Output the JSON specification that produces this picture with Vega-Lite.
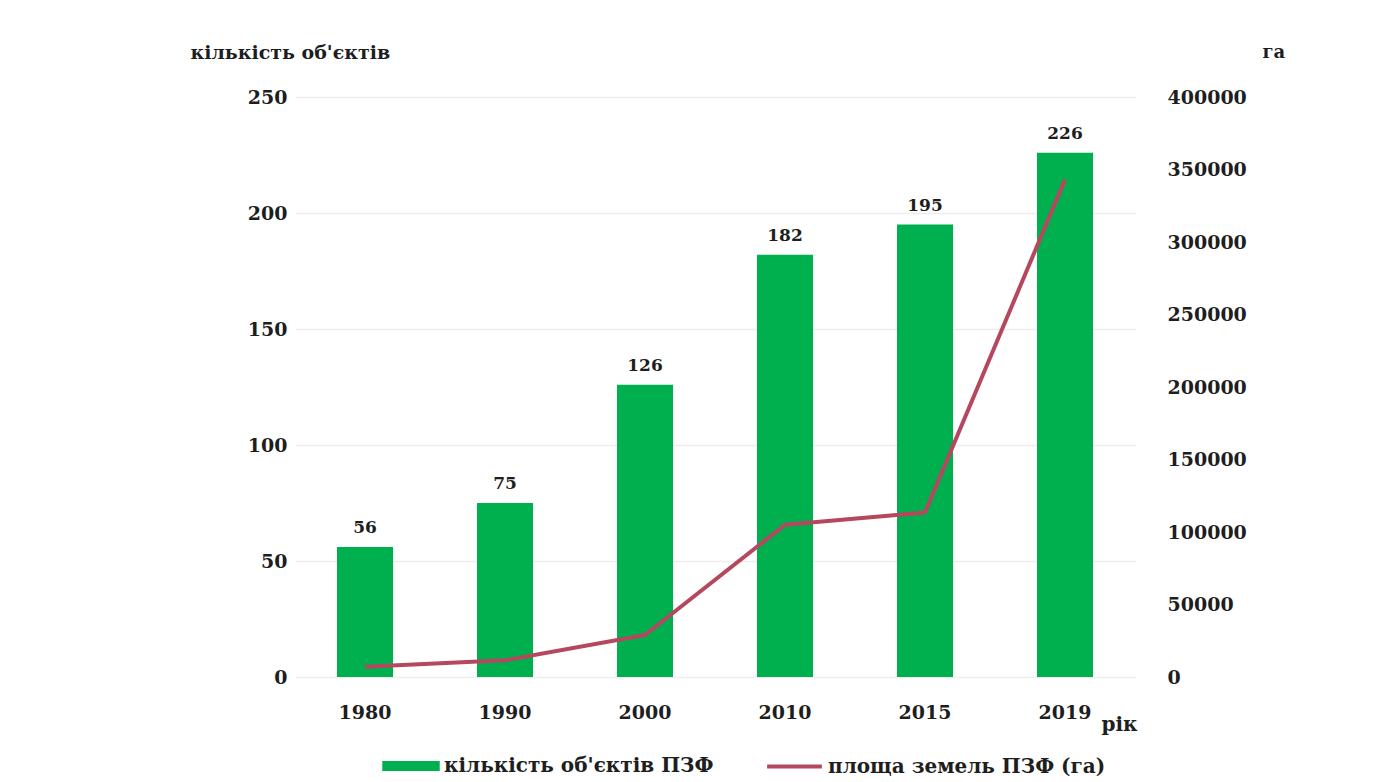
{
  "$schema": "https://vega.github.io/schema/vega-lite/v6.json",
  "width": 840,
  "height": 580,
  "autosize": {"type": "none"},
  "padding": {"left": 295, "top": 97, "right": 259, "bottom": 105},
  "background": "white",
  "config": {
    "view": {"stroke": null},
    "font": "DejaVu Serif",
    "axis": {
      "labelFont": "DejaVu Serif",
      "labelFontWeight": "bold",
      "labelFontSize": 19,
      "labelColor": "#1e1e1e",
      "titleFont": "DejaVu Serif",
      "titleFontWeight": "bold",
      "titleFontSize": 19,
      "titleColor": "#1e1e1e",
      "domain": false,
      "ticks": false
    },
    "legend": {
      "labelFont": "DejaVu Serif",
      "labelFontWeight": "bold",
      "labelFontSize": 20,
      "labelColor": "#1e1e1e",
      "labelLimit": 0
    }
  },
  "data": {
    "values": [
      {"year": "1980", "count": 56, "area": 7000},
      {"year": "1990", "count": 75, "area": 11500},
      {"year": "2000", "count": 126, "area": 29000},
      {"year": "2010", "count": 182, "area": 105000},
      {"year": "2015", "count": 195, "area": 113500},
      {"year": "2019", "count": 226, "area": 343000}
    ]
  },
  "encoding": {
    "x": {
      "field": "year",
      "type": "ordinal",
      "sort": null,
      "scale": {"paddingInner": 0.6, "paddingOuter": 0.3},
      "axis": {
        "labelAngle": 0,
        "labelPadding": 26,
        "grid": false,
        "title": "рік",
        "titleAngle": 0,
        "titleX": 806,
        "titleY": 47,
        "titleAlign": "left",
        "titleBaseline": "middle",
        "titleFontSize": 20
      }
    }
  },
  "layer": [
    {
      "mark": {"type": "bar"},
      "encoding": {
        "y": {
          "field": "count",
          "type": "quantitative",
          "scale": {"domain": [0, 250]},
          "axis": {
            "orient": "left",
            "values": [0, 50, 100, 150, 200, 250],
            "labelPadding": 8,
            "grid": true,
            "gridColor": "#ededed",
            "gridWidth": 1.5,
            "title": "кількість об'єктів",
            "titleAngle": 0,
            "titleX": -105,
            "titleY": -45,
            "titleAlign": "left",
            "titleBaseline": "middle"
          }
        },
        "fill": {
          "datum": "кількість об'єктів ПЗФ",
          "type": "nominal",
          "scale": {"range": ["#00B04F"]},
          "legend": {
            "title": null,
            "orient": "none",
            "legendX": 87,
            "legendY": 640,
            "symbolType": "M-1,-0.17H1V0.17H-1Z",
            "symbolSize": 3300,
            "symbolStrokeWidth": 0,
            "labelOffset": 4
          }
        }
      }
    },
    {
      "mark": {"type": "text", "baseline": "bottom", "dy": -10, "font": "DejaVu Serif", "fontWeight": "bold", "fontSize": 17, "color": "#1e1e1e"},
      "encoding": {
        "y": {"field": "count", "type": "quantitative", "scale": {"domain": [0, 250]}, "axis": null},
        "text": {"field": "count", "type": "quantitative"}
      }
    },
    {
      "mark": {"type": "line", "strokeWidth": 4, "strokeJoin": "round"},
      "encoding": {
        "y": {
          "field": "area",
          "type": "quantitative",
          "scale": {"domain": [0, 400000]},
          "axis": {
            "orient": "right",
            "values": [0, 50000, 100000, 150000, 200000, 250000, 300000, 350000, 400000],
            "format": "d",
            "labelPadding": 32,
            "grid": false,
            "title": "га",
            "titleAngle": 0,
            "titleX": 127,
            "titleY": -45,
            "titleAlign": "left",
            "titleBaseline": "middle",
            "titleFontSize": 18
          }
        },
        "stroke": {
          "datum": "площа  земель ПЗФ (га)",
          "type": "nominal",
          "scale": {"range": ["#B5475F"]},
          "legend": {
            "title": null,
            "orient": "none",
            "legendX": 470,
            "legendY": 640,
            "symbolType": "stroke",
            "symbolSize": 3000,
            "symbolStrokeWidth": 4,
            "labelOffset": 4
          }
        }
      }
    }
  ],
  "resolve": {"scale": {"y": "independent"}}
}
